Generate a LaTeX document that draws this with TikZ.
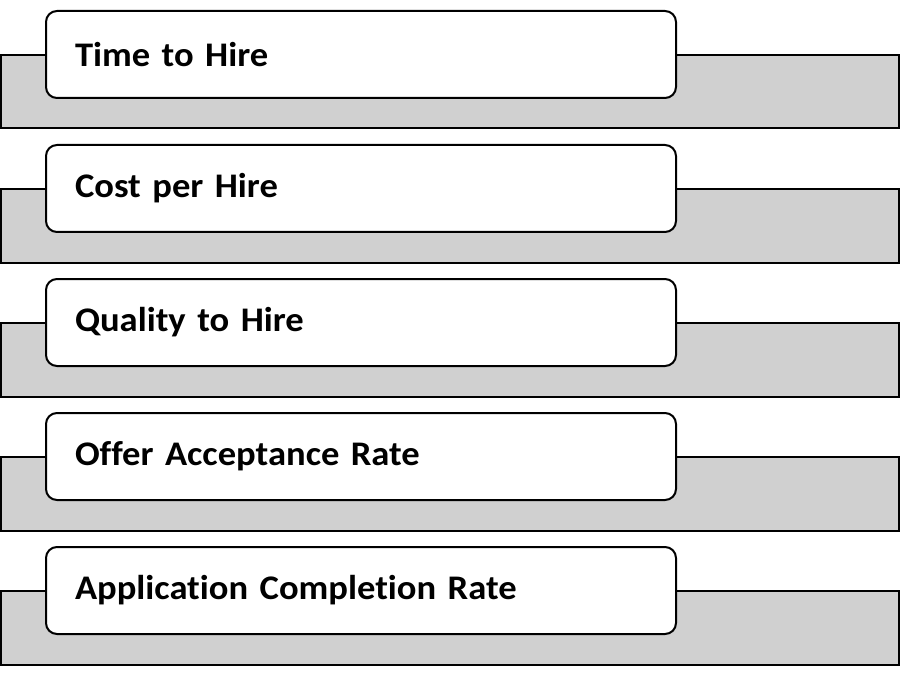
\documentclass[tikz,border=0pt]{standalone}
\usepackage{fontspec}
\setmainfont[Ligatures=NoCommon, FakeStretch=1.06]{Carlito}
\usepackage{tikz}
\usetikzlibrary{positioning}
\definecolor{bargray}{HTML}{D0D0D0}
\tikzset{
  bar/.style={rectangle, draw=black, line width=2pt, fill=bargray,
    minimum width=898pt, minimum height=73.5pt, inner sep=0pt},
  metric/.style={rectangle, rounded corners=11pt, draw=black, line width=2pt, fill=white,
    font=\fontsize{34.5}{40}\selectfont\bfseries, minimum width=630pt, minimum height=87pt,
    text width=572pt, align=left, inner xsep=29pt, inner ysep=0pt},
}

\begin{document}
\begin{tikzpicture}[x=1pt, y=-1pt]
\useasboundingbox (0,0) rectangle (901,676);

\node[bar]    (B1) at (450,91.75)  {};
\node[metric] (M1) at (361,54.5)   {Time to Hire};

\node[bar]    (B2) at (450,225.75) {};
\node[metric] (M2) at (361,188.5)  {Cost per Hire};

\node[bar]    (B3) at (450,359.75) {};
\node[metric] (M3) at (361,322.5)  {Quality to Hire};

\node[bar]    (B4) at (450,493.75) {};
\node[metric] (M4) at (361,456.5)  {Offer Acceptance Rate};

\node[bar]    (B5) at (450,627.75) {};
\node[metric] (M5) at (361,590.5)  {Application Completion Rate};

\end{tikzpicture}
\end{document}
